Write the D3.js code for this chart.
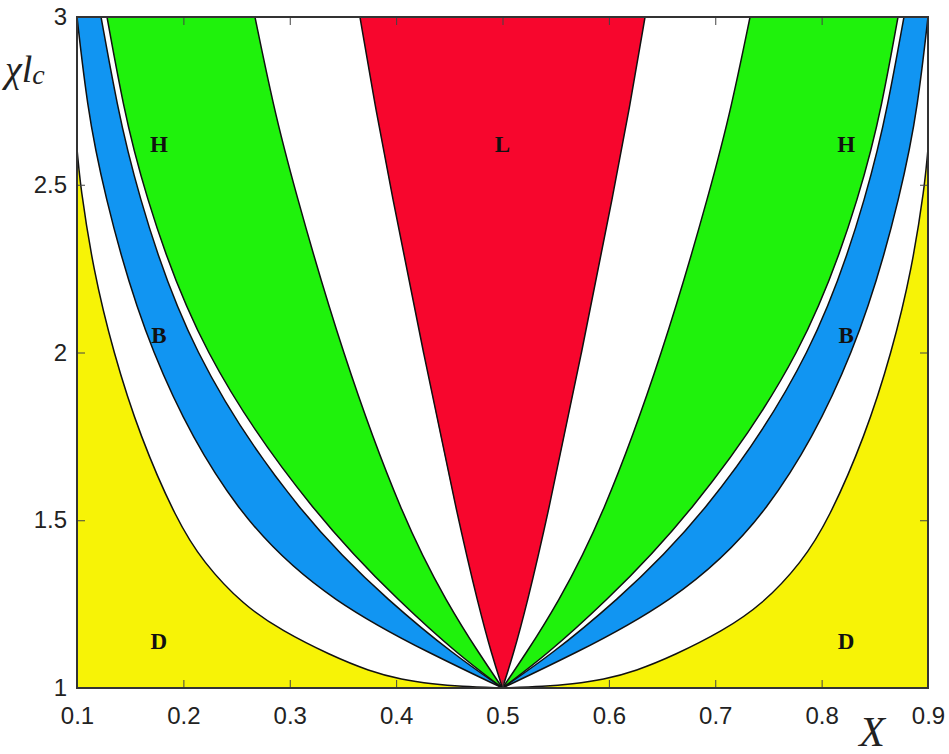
<!DOCTYPE html>
<html>
<head>
<meta charset="utf-8">
<script src="https://cdn.jsdelivr.net/npm/d3@7"></script>
<style>
  html, body { margin: 0; padding: 0; background: #fff; }
  svg { display: block; }
</style>
</head>
<body>
<svg id="chart" width="949" height="754"></svg>
<script>
// ---- data ----
// distance |X - 0.5| of each boundary at the chi*l_c levels below (symmetric about X = 0.5)
const chiLevels  = [1, 1.098, 1.247, 1.5, 2, 2.5, 2.738, 3];
const redEdge    = [0, 0.010, 0.0227, 0.0416, 0.0745, 0.1058, 0.1199, 0.134];
const greenInner = [0, 0.021, 0.051, 0.0933, 0.1512, 0.1967, 0.2157, 0.2327];
const greenOuter = [0, 0.041, 0.0935, 0.1732, 0.286, 0.3392, 0.3568, 0.3718];
const blueInner  = [0, 0.045, 0.1027, 0.1873, 0.2954, 0.3455, 0.3624, 0.3774];
const blueOuter  = [0, 0.065, 0.1559, 0.2499, 0.3345, 0.3768, 0.3906, 0.400];
// yellow (D) boundary, sampled separately
const yellowChi  = [1, 1.005, 1.012, 1.025, 1.05, 1.098, 1.17, 1.247, 1.375, 1.5, 1.75, 2, 2.25, 2.5, 2.6, 3];
const yellowD    = [0, 0.04, 0.065, 0.095, 0.125, 0.162, 0.207, 0.2437, 0.2815, 0.3063, 0.3408, 0.3659, 0.385, 0.397, 0.40, 0.41];

const xTicks = [0.1, 0.2, 0.3, 0.4, 0.5, 0.6, 0.7, 0.8, 0.9];
const yTicks = [1, 1.5, 2, 2.5, 3];

const regionLabels = [
  {text: "H", x: 0.177, chi: 2.62}, {text: "L", x: 0.5, chi: 2.62}, {text: "H", x: 0.823, chi: 2.62},
  {text: "B", x: 0.177, chi: 2.05}, {text: "B", x: 0.823, chi: 2.05},
  {text: "D", x: 0.177, chi: 1.14}, {text: "D", x: 0.823, chi: 1.14}
];

const colors = {yellow: "#f7f306", blue: "#1195f2", green: "#1ff20c", red: "#f7062d"};

// ---- layout ----
const margin = {left: 77, top: 17, right: 21, bottom: 66};
const W = 949, H = 754;
const iw = W - margin.left - margin.right;
const ih = H - margin.top - margin.bottom;

const svg = d3.select("#chart");
const g = svg.append("g").attr("transform", `translate(${margin.left},${margin.top})`);

const x = d3.scaleLinear().domain([0.1, 0.9]).range([0, iw]);
const y = d3.scaleLinear().domain([1, 3]).range([ih, 0]);

svg.append("defs").append("clipPath").attr("id", "plotclip")
  .append("rect").attr("x", 0).attr("y", 0).attr("width", iw).attr("height", ih);

const plot = g.append("g").attr("clip-path", "url(#plotclip)");

const rows = chiLevels.map((c, i) => ({
  chi: c, red: redEdge[i], gIn: greenInner[i], gOut: greenOuter[i], bIn: blueInner[i], bOut: blueOuter[i]
}));
const yRows = yellowChi.map((c, i) => ({chi: c, d: yellowD[i]}));

const curve = d3.curveBasis;
const area = (f0, f1) => d3.area().curve(curve)
  .y(d => y(d.chi)).x0(d => x(f0(d))).x1(d => x(f1(d)));
const line = f => d3.line().curve(curve).y(d => y(d.chi)).x(d => x(f(d)));

// yellow regions
plot.append("path").datum(yRows).attr("fill", colors.yellow)
  .attr("d", area(d => 0.05, d => 0.5 - d.d));
plot.append("path").datum(yRows).attr("fill", colors.yellow)
  .attr("d", area(d => 0.5 + d.d, d => 0.95));
// blue bands
plot.append("path").datum(rows).attr("fill", colors.blue).attr("d", area(d => 0.5 - d.bOut, d => 0.5 - d.bIn));
plot.append("path").datum(rows).attr("fill", colors.blue).attr("d", area(d => 0.5 + d.bIn, d => 0.5 + d.bOut));
// green bands
plot.append("path").datum(rows).attr("fill", colors.green).attr("d", area(d => 0.5 - d.gOut, d => 0.5 - d.gIn));
plot.append("path").datum(rows).attr("fill", colors.green).attr("d", area(d => 0.5 + d.gIn, d => 0.5 + d.gOut));
// red wedge
plot.append("path").datum(rows).attr("fill", colors.red).attr("d", area(d => 0.5 - d.red, d => 0.5 + d.red));

// boundary lines
const keys = ["red", "gIn", "gOut", "bIn", "bOut"];
keys.forEach(k => {
  [-1, 1].forEach(s => {
    plot.append("path").datum(rows).attr("fill", "none").attr("stroke", "#111").attr("stroke-width", 1.5)
      .attr("d", line(d => 0.5 + s * d[k]));
  });
});
[-1, 1].forEach(s => {
  plot.append("path").datum(yRows).attr("fill", "none").attr("stroke", "#111").attr("stroke-width", 1.5)
    .attr("d", line(d => 0.5 + s * d.d));
});

// region labels
g.selectAll("text.region").data(regionLabels).join("text")
  .attr("class", "region")
  .attr("x", d => x(d.x)).attr("y", d => y(d.chi))
  .attr("text-anchor", "middle").attr("dominant-baseline", "central")
  .attr("font-family", "Liberation Serif, Times New Roman, serif")
  .attr("font-weight", "bold").attr("font-size", 23).attr("fill", "#111")
  .text(d => d.text);

// axes
const axisFont = "Liberation Sans, Arial, Helvetica, sans-serif";
const xb = g.append("g").attr("transform", `translate(0,${ih})`)
  .call(d3.axisBottom(x).tickValues(xTicks).tickFormat(d3.format(".1f")).tickSize(-8).tickPadding(19));
const yl = g.append("g")
  .call(d3.axisLeft(y).tickValues(yTicks).tickFormat(d => String(d)).tickSize(-8).tickPadding(10));
const xt = g.append("g")
  .call(d3.axisTop(x).tickValues(xTicks).tickFormat("").tickSize(-8));
const yr = g.append("g").attr("transform", `translate(${iw},0)`)
  .call(d3.axisRight(y).tickValues(yTicks).tickFormat("").tickSize(-8));

[xb, yl, xt, yr].forEach(a => {
  a.select(".domain").remove();
  a.selectAll(".tick line").attr("stroke", "#444").attr("stroke-width", 1);
  a.selectAll(".tick text").attr("font-family", axisFont).attr("font-size", 24).attr("fill", "#222");
});
xb.selectAll(".tick line").filter(d => d === 0.1 || d === 0.9).remove();
xt.selectAll(".tick line").filter(d => d === 0.1 || d === 0.9).remove();
yl.selectAll(".tick line").filter(d => d === 1 || d === 3).remove();
yr.selectAll(".tick line").filter(d => d === 1 || d === 3).remove();

// plot frame
g.append("rect").attr("x", 0).attr("y", 0).attr("width", iw).attr("height", ih)
  .attr("fill", "none").attr("stroke", "#333").attr("stroke-width", 2);

// axis titles
const ylab = svg.append("text").attr("x", 5).attr("y", 82)
  .attr("font-family", "Liberation Serif, Times New Roman, serif").attr("font-style", "italic")
  .attr("font-size", 38).attr("fill", "#222");
ylab.append("tspan").text("χl");
ylab.append("tspan").attr("font-size", 28).attr("dy", 2).text("c");

svg.append("text").attr("x", 872).attr("y", 746).attr("text-anchor", "middle")
  .attr("font-family", "Liberation Serif, Times New Roman, serif").attr("font-style", "italic")
  .attr("font-size", 42).attr("fill", "#222").text("X");
</script>
</body>
</html>
